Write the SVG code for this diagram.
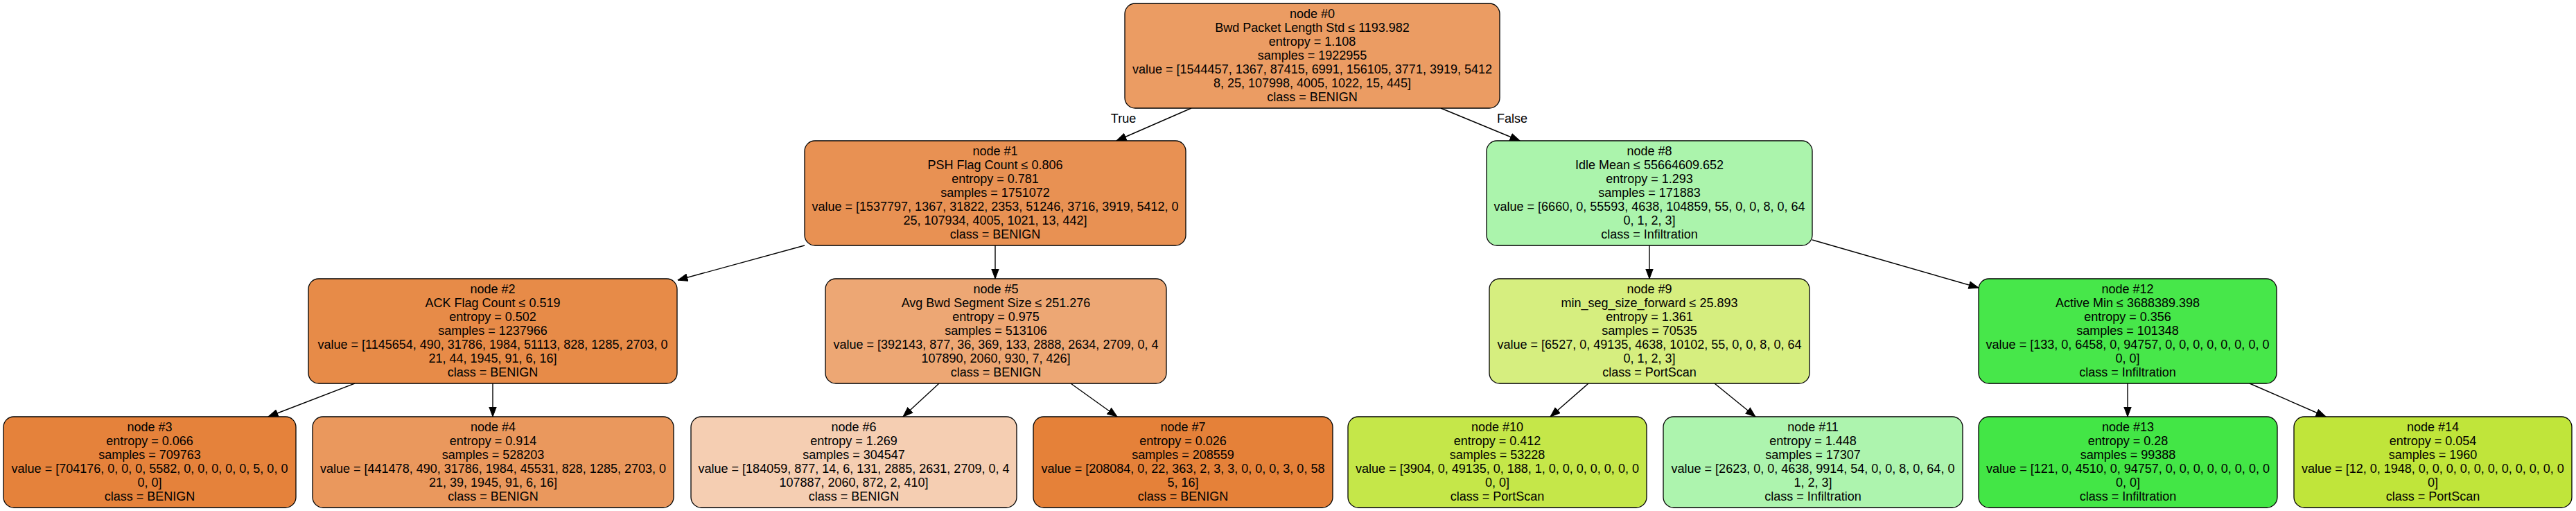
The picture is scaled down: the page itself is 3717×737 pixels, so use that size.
<svg xmlns="http://www.w3.org/2000/svg" width="3717" height="737" viewBox="0 0 3717 737">
<defs>
<style>
.nd rect{stroke:#000;stroke-width:1.3}
text{font-family:"Liberation Sans",Arial,Helvetica,sans-serif;font-size:18px;text-anchor:middle;fill:#000}
.edges line{stroke:#000;stroke-width:1.4;fill:none;marker-end:url(#arr)}
</style>
<marker id="arr" markerUnits="userSpaceOnUse" markerWidth="15" markerHeight="12" viewBox="0 0 15 12" refX="14.5" refY="6" orient="auto">
<path d="M0.5,0.8 L14.5,6 L0.5,11.2 z" fill="#000" stroke="#000" stroke-width="1"/>
</marker>
</defs>
<rect x="0" y="0" width="3717" height="737" fill="#fff"/>
<g class="edges" id="connectors">
<line x1="1719" y1="156" x2="1611" y2="203"/>
<line x1="2079" y1="156" x2="2193" y2="203"/>
<line x1="1161" y1="354" x2="978" y2="404"/>
<line x1="1436" y1="354" x2="1436" y2="402"/>
<line x1="2380" y1="354" x2="2380" y2="402"/>
<line x1="2615" y1="346" x2="2855" y2="415"/>
<line x1="512" y1="553" x2="387" y2="601"/>
<line x1="711" y1="553" x2="711" y2="601"/>
<line x1="1355" y1="553" x2="1303" y2="601"/>
<line x1="1545" y1="553" x2="1612" y2="601"/>
<line x1="2292" y1="553" x2="2237" y2="601"/>
<line x1="2474" y1="553" x2="2533" y2="601"/>
<line x1="3070" y1="553" x2="3070" y2="601"/>
<line x1="3246" y1="553" x2="3356" y2="601"/>
<text x="1621" y="177">True</text>
<text x="2182" y="177">False</text>
</g>
<g class="nd" id="node0">
<rect x="1623" y="5" width="541" height="151" rx="15" fill="#eb9c63"/>
<text x="1893.5"><tspan x="1893.5" y="26">node #0</tspan><tspan x="1893.5" y="46">Bwd Packet Length Std ≤ 1193.982</tspan><tspan x="1893.5" y="66">entropy = 1.108</tspan><tspan x="1893.5" y="86">samples = 1922955</tspan><tspan x="1893.5" y="106">value = [1544457, 1367, 87415, 6991, 156105, 3771, 3919, 5412</tspan><tspan x="1893.5" y="126">8, 25, 107998, 4005, 1022, 15, 445]</tspan><tspan x="1893.5" y="146">class = BENIGN</tspan></text>
</g>
<g class="nd" id="node1">
<rect x="1161" y="203" width="550" height="151" rx="15" fill="#e89153"/>
<text x="1436"><tspan x="1436" y="224">node #1</tspan><tspan x="1436" y="244">PSH Flag Count ≤ 0.806</tspan><tspan x="1436" y="264">entropy = 0.781</tspan><tspan x="1436" y="284">samples = 1751072</tspan><tspan x="1436" y="304">value = [1537797, 1367, 31822, 2353, 51246, 3716, 3919, 5412, 0</tspan><tspan x="1436" y="324">25, 107934, 4005, 1021, 13, 442]</tspan><tspan x="1436" y="344">class = BENIGN</tspan></text>
</g>
<g class="nd" id="node8">
<rect x="2145" y="203" width="470" height="151" rx="15" fill="#abf4ac"/>
<text x="2380"><tspan x="2380" y="224">node #8</tspan><tspan x="2380" y="244">Idle Mean ≤ 55664609.652</tspan><tspan x="2380" y="264">entropy = 1.293</tspan><tspan x="2380" y="284">samples = 171883</tspan><tspan x="2380" y="304">value = [6660, 0, 55593, 4638, 104859, 55, 0, 0, 8, 0, 64</tspan><tspan x="2380" y="324">0, 1, 2, 3]</tspan><tspan x="2380" y="344">class = Infiltration</tspan></text>
</g>
<g class="nd" id="node2">
<rect x="445" y="402" width="532" height="151" rx="15" fill="#e78b48"/>
<text x="711"><tspan x="711" y="423">node #2</tspan><tspan x="711" y="443">ACK Flag Count ≤ 0.519</tspan><tspan x="711" y="463">entropy = 0.502</tspan><tspan x="711" y="483">samples = 1237966</tspan><tspan x="711" y="503">value = [1145654, 490, 31786, 1984, 51113, 828, 1285, 2703, 0</tspan><tspan x="711" y="523">21, 44, 1945, 91, 6, 16]</tspan><tspan x="711" y="543">class = BENIGN</tspan></text>
</g>
<g class="nd" id="node5">
<rect x="1191" y="402" width="492" height="151" rx="15" fill="#eda774"/>
<text x="1437"><tspan x="1437" y="423">node #5</tspan><tspan x="1437" y="443">Avg Bwd Segment Size ≤ 251.276</tspan><tspan x="1437" y="463">entropy = 0.975</tspan><tspan x="1437" y="483">samples = 513106</tspan><tspan x="1437" y="503">value = [392143, 877, 36, 369, 133, 2888, 2634, 2709, 0, 4</tspan><tspan x="1437" y="523">107890, 2060, 930, 7, 426]</tspan><tspan x="1437" y="543">class = BENIGN</tspan></text>
</g>
<g class="nd" id="node9">
<rect x="2149" y="402" width="462" height="151" rx="15" fill="#d6ee7f"/>
<text x="2380"><tspan x="2380" y="423">node #9</tspan><tspan x="2380" y="443">min_seg_size_forward ≤ 25.893</tspan><tspan x="2380" y="463">entropy = 1.361</tspan><tspan x="2380" y="483">samples = 70535</tspan><tspan x="2380" y="503">value = [6527, 0, 49135, 4638, 10102, 55, 0, 0, 8, 0, 64</tspan><tspan x="2380" y="523">0, 1, 2, 3]</tspan><tspan x="2380" y="543">class = PortScan</tspan></text>
</g>
<g class="nd" id="node12">
<rect x="2855" y="402" width="430" height="151" rx="15" fill="#47e74a"/>
<text x="3070"><tspan x="3070" y="423">node #12</tspan><tspan x="3070" y="443">Active Min ≤ 3688389.398</tspan><tspan x="3070" y="463">entropy = 0.356</tspan><tspan x="3070" y="483">samples = 101348</tspan><tspan x="3070" y="503">value = [133, 0, 6458, 0, 94757, 0, 0, 0, 0, 0, 0, 0, 0</tspan><tspan x="3070" y="523">0, 0]</tspan><tspan x="3070" y="543">class = Infiltration</tspan></text>
</g>
<g class="nd" id="node3">
<rect x="5" y="601" width="422" height="131" rx="15" fill="#e5823b"/>
<text x="216"><tspan x="216" y="622">node #3</tspan><tspan x="216" y="642">entropy = 0.066</tspan><tspan x="216" y="662">samples = 709763</tspan><tspan x="216" y="682">value = [704176, 0, 0, 0, 5582, 0, 0, 0, 0, 0, 5, 0, 0</tspan><tspan x="216" y="702">0, 0]</tspan><tspan x="216" y="722">class = BENIGN</tspan></text>
</g>
<g class="nd" id="node4">
<rect x="451" y="601" width="521" height="131" rx="15" fill="#ea985d"/>
<text x="711.5"><tspan x="711.5" y="622">node #4</tspan><tspan x="711.5" y="642">entropy = 0.914</tspan><tspan x="711.5" y="662">samples = 528203</tspan><tspan x="711.5" y="682">value = [441478, 490, 31786, 1984, 45531, 828, 1285, 2703, 0</tspan><tspan x="711.5" y="702">21, 39, 1945, 91, 6, 16]</tspan><tspan x="711.5" y="722">class = BENIGN</tspan></text>
</g>
<g class="nd" id="node6">
<rect x="997" y="601" width="470" height="131" rx="15" fill="#f5ceb2"/>
<text x="1232"><tspan x="1232" y="622">node #6</tspan><tspan x="1232" y="642">entropy = 1.269</tspan><tspan x="1232" y="662">samples = 304547</tspan><tspan x="1232" y="682">value = [184059, 877, 14, 6, 131, 2885, 2631, 2709, 0, 4</tspan><tspan x="1232" y="702">107887, 2060, 872, 2, 410]</tspan><tspan x="1232" y="722">class = BENIGN</tspan></text>
</g>
<g class="nd" id="node7">
<rect x="1491" y="601" width="432" height="131" rx="15" fill="#e58139"/>
<text x="1707"><tspan x="1707" y="622">node #7</tspan><tspan x="1707" y="642">entropy = 0.026</tspan><tspan x="1707" y="662">samples = 208559</tspan><tspan x="1707" y="682">value = [208084, 0, 22, 363, 2, 3, 3, 0, 0, 0, 3, 0, 58</tspan><tspan x="1707" y="702">5, 16]</tspan><tspan x="1707" y="722">class = BENIGN</tspan></text>
</g>
<g class="nd" id="node10">
<rect x="1945" y="601" width="431" height="131" rx="15" fill="#c5e749"/>
<text x="2160.5"><tspan x="2160.5" y="622">node #10</tspan><tspan x="2160.5" y="642">entropy = 0.412</tspan><tspan x="2160.5" y="662">samples = 53228</tspan><tspan x="2160.5" y="682">value = [3904, 0, 49135, 0, 188, 1, 0, 0, 0, 0, 0, 0, 0</tspan><tspan x="2160.5" y="702">0, 0]</tspan><tspan x="2160.5" y="722">class = PortScan</tspan></text>
</g>
<g class="nd" id="node11">
<rect x="2400" y="601" width="432" height="131" rx="15" fill="#adf4ae"/>
<text x="2616"><tspan x="2616" y="622">node #11</tspan><tspan x="2616" y="642">entropy = 1.448</tspan><tspan x="2616" y="662">samples = 17307</tspan><tspan x="2616" y="682">value = [2623, 0, 0, 4638, 9914, 54, 0, 0, 8, 0, 64, 0</tspan><tspan x="2616" y="702">1, 2, 3]</tspan><tspan x="2616" y="722">class = Infiltration</tspan></text>
</g>
<g class="nd" id="node13">
<rect x="2855" y="601" width="431" height="131" rx="15" fill="#43e646"/>
<text x="3070.5"><tspan x="3070.5" y="622">node #13</tspan><tspan x="3070.5" y="642">entropy = 0.28</tspan><tspan x="3070.5" y="662">samples = 99388</tspan><tspan x="3070.5" y="682">value = [121, 0, 4510, 0, 94757, 0, 0, 0, 0, 0, 0, 0, 0</tspan><tspan x="3070.5" y="702">0, 0]</tspan><tspan x="3070.5" y="722">class = Infiltration</tspan></text>
</g>
<g class="nd" id="node14">
<rect x="3310" y="601" width="401" height="131" rx="15" fill="#c0e53a"/>
<text x="3510.5"><tspan x="3510.5" y="622">node #14</tspan><tspan x="3510.5" y="642">entropy = 0.054</tspan><tspan x="3510.5" y="662">samples = 1960</tspan><tspan x="3510.5" y="682">value = [12, 0, 1948, 0, 0, 0, 0, 0, 0, 0, 0, 0, 0, 0</tspan><tspan x="3510.5" y="702">0]</tspan><tspan x="3510.5" y="722">class = PortScan</tspan></text>
</g>
</svg>
